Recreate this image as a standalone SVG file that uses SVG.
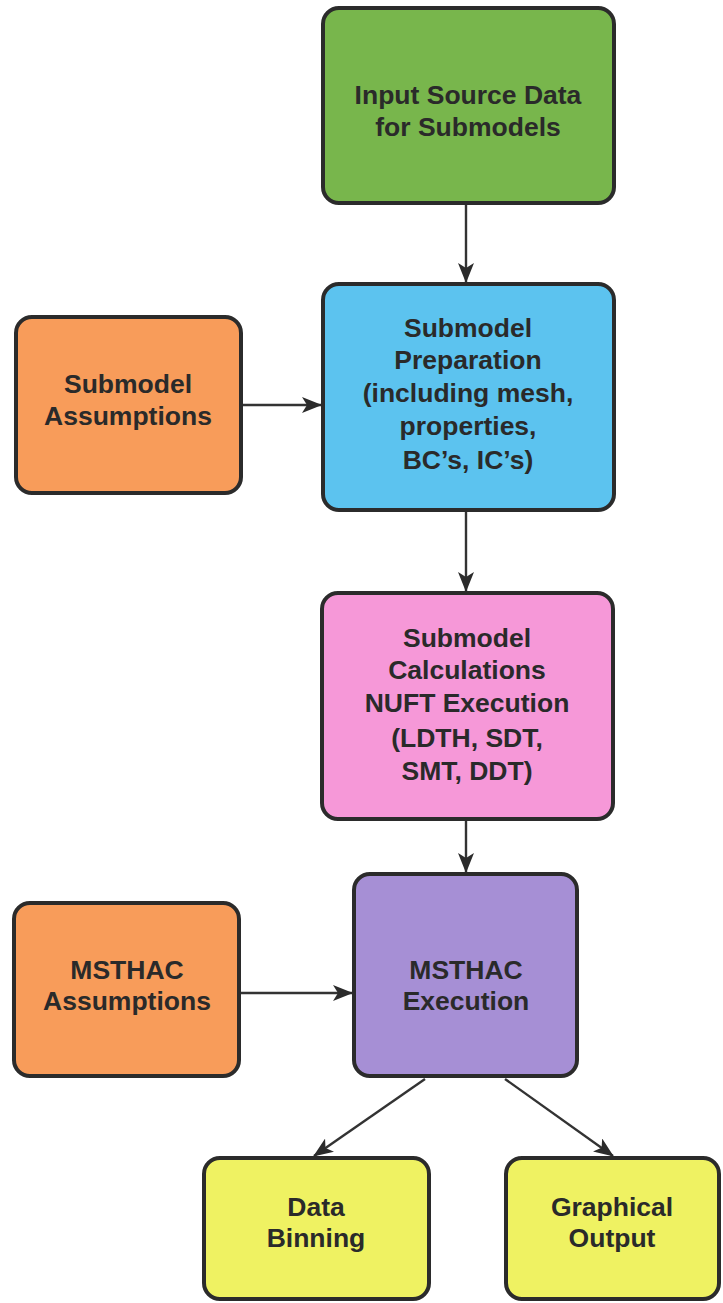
<svg xmlns="http://www.w3.org/2000/svg" width="723" height="1303" viewBox="0 0 723 1303">
<style>
.box{stroke:#2b2b2b;stroke-width:4}
.t{font-family:"Liberation Sans",Arial,sans-serif;font-weight:bold;font-size:26.5px;fill:#2a2a2a;text-anchor:middle}
.c{stroke:#333;stroke-width:2.4;fill:none;marker-end:url(#ah)}
</style>
<defs>
<marker id="ah" markerWidth="20" markerHeight="16" refX="19" refY="8" orient="auto" markerUnits="userSpaceOnUse">
<path d="M0,0 L20,8 L0,16 L5,8 Z" fill="#2b2b2b"/>
</marker>
</defs>
<rect width="723" height="1303" fill="#ffffff"/>
<g id="connectors">
<line class="c" x1="466" y1="205" x2="466" y2="282"/>
<line class="c" x1="243" y1="405" x2="321" y2="405"/>
<line class="c" x1="466" y1="511" x2="466" y2="591"/>
<line class="c" x1="466" y1="821" x2="466" y2="872"/>
<line class="c" x1="241" y1="993" x2="352" y2="993"/>
<line class="c" x1="425" y1="1079" x2="314" y2="1156"/>
<line class="c" x1="505" y1="1079" x2="613" y2="1156"/>
</g>
<g id="n_input">
<rect class="box" x="323" y="8" width="291" height="195" rx="16" fill="#78b64c"/>
<text class="t" x="468" y="104">Input Source Data</text>
<text class="t" x="468" y="136">for Submodels</text>
</g>
<g id="n_prep">
<rect class="box" x="323" y="284" width="291" height="226" rx="16" fill="#5cc3ef"/>
<text class="t" x="468" y="337">Submodel</text>
<text class="t" x="468" y="369">Preparation</text>
<text class="t" x="468" y="402">(including mesh,</text>
<text class="t" x="468" y="435">properties,</text>
<text class="t" x="468" y="469">BC’s, IC’s)</text>
</g>
<g id="n_subassump">
<rect class="box" x="16" y="317" width="225" height="176" rx="16" fill="#f89c5a"/>
<text class="t" x="128" y="393">Submodel</text>
<text class="t" x="128" y="425">Assumptions</text>
</g>
<g id="n_calc">
<rect class="box" x="322" y="593" width="291" height="226" rx="16" fill="#f698d8"/>
<text class="t" x="467" y="647">Submodel</text>
<text class="t" x="467" y="679">Calculations</text>
<text class="t" x="467" y="712">NUFT Execution</text>
<text class="t" x="467" y="747">(LDTH, SDT,</text>
<text class="t" x="467" y="780">SMT, DDT)</text>
</g>
<g id="n_msthacassump">
<rect class="box" x="14" y="903" width="225" height="173" rx="16" fill="#f89c5a"/>
<text class="t" x="127" y="979">MSTHAC</text>
<text class="t" x="127" y="1010">Assumptions</text>
</g>
<g id="n_msthacexec">
<rect class="box" x="354" y="874" width="223" height="202" rx="16" fill="#a68fd5"/>
<text class="t" x="466" y="979">MSTHAC</text>
<text class="t" x="466" y="1010">Execution</text>
</g>
<g id="n_binning">
<rect class="box" x="204" y="1158" width="225" height="141" rx="16" fill="#eff262"/>
<text class="t" x="316" y="1216">Data</text>
<text class="t" x="316" y="1247">Binning</text>
</g>
<g id="n_graph">
<rect class="box" x="506" y="1158" width="213" height="141" rx="16" fill="#eff262"/>
<text class="t" x="612" y="1216">Graphical</text>
<text class="t" x="612" y="1247">Output</text>
</g>
</svg>
